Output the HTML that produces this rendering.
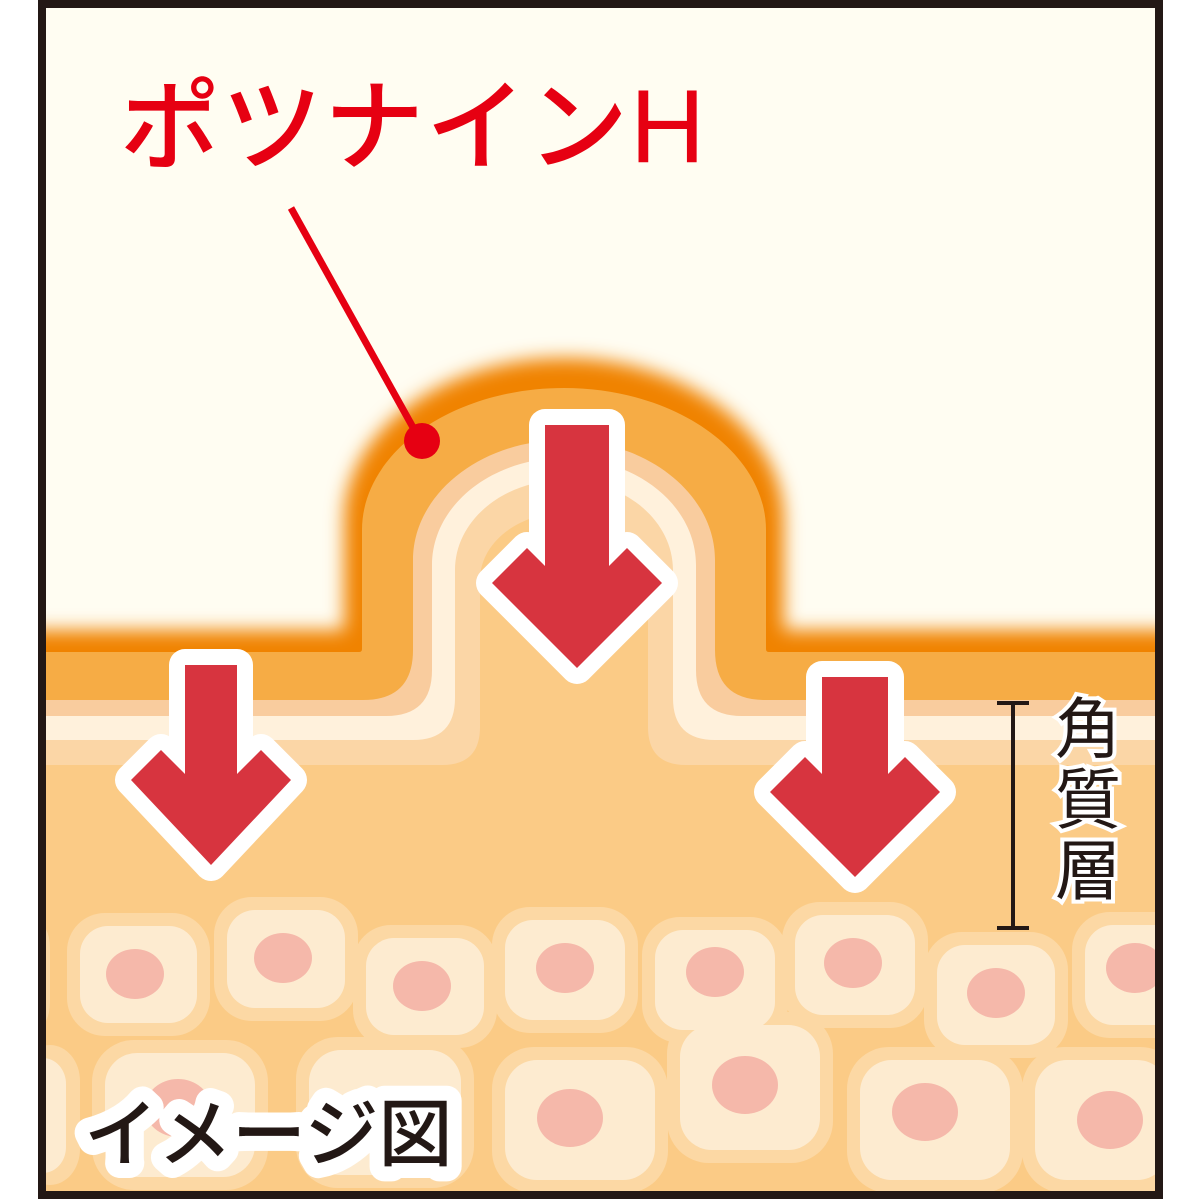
<!DOCTYPE html>
<html><head><meta charset="utf-8"><style>html,body{margin:0;padding:0;background:#fff}svg{display:block}</style></head>
<body>
<svg width="1200" height="1200" viewBox="0 0 1200 1200" xmlns="http://www.w3.org/2000/svg">
<defs>
<clipPath id="cp"><rect x="46" y="8" width="1109" height="1183"/></clipPath>
<filter id="bl" x="-10%" y="-10%" width="120%" height="120%"><feGaussianBlur stdDeviation="9"/></filter>
</defs>
<rect x="0" y="0" width="1200" height="1200" fill="#fff"/>
<g clip-path="url(#cp)">
<rect x="0" y="0" width="1200" height="1200" fill="#fbcb86"/>
<path fill="#fbd6a6" d="M-50,-50 H1250 V765 H686 Q648,765 648,727 V580 C648,543 610,513 564,513 C518,513 480,543 480,580 V727 Q480,765 442,765 H-50 Z"/>
<path fill="#fff1dc" d="M-50,-50 H1250 V740 H715 Q673,740 673,698 V570 C673,520 624,480 564,480 C504,480 455,520 455,570 V698 Q455,740 413,740 H-50 Z"/>
<path fill="#f9cc9e" d="M-50,-50 H1250 V716 H742 Q696,716 696,670 V565 C696,506 637,458 564,458 C491,458 432,506 432,565 V670 Q432,716 386,716 H-50 Z"/>
<path fill="#f6ac45" d="M-50,-50 H1250 V700 H765 Q715,700 715,650 V560 C715,494 647,440 564,440 C481,440 413,494 413,560 V650 Q413,700 363,700 H-50 Z"/>
<path fill="#f08300" d="M-50,-50 H1250 V652 H769 Q766,652 766,649 V530 C766,452 675,388 564,388 C453,388 362,452 362,530 V649 Q362,652 359,652 H-50 Z"/>
<path fill="#fffdf2" filter="url(#bl)" d="M-50,-50 H1250 V630 H786 Q784,630 784,628 V520 C784,432 685,358 564,358 C443,358 344,432 344,520 V628 Q344,630 342,630 H-50 Z"/>

<g fill="#fcd8a4">
<rect x="20" y="920" width="30" height="110" rx="28"/>
<rect x="67" y="913" width="143" height="123" rx="38"/>
<rect x="214" y="897" width="144" height="124" rx="38"/>
<rect x="353" y="925" width="144" height="123" rx="38"/>
<rect x="492" y="907" width="146" height="126" rx="38"/>
<rect x="642" y="917" width="146" height="126" rx="38"/>
<rect x="782" y="902" width="146" height="126" rx="38"/>
<rect x="924" y="932" width="144" height="126" rx="38"/>
<rect x="1072" y="912" width="120" height="126" rx="38"/>
<rect x="20" y="1045" width="60" height="140" rx="36"/>
<rect x="92" y="1040" width="176" height="150" rx="42"/>
<rect x="296" y="1037" width="178" height="151" rx="42"/>
<rect x="492" y="1047" width="176" height="146" rx="42"/>
<rect x="667" y="1012" width="166" height="151" rx="42"/>
<rect x="847" y="1047" width="176" height="146" rx="42"/>
<rect x="1022" y="1047" width="160" height="146" rx="42"/>
</g>
<g fill="#fdebd0">
<rect x="80" y="926" width="117" height="97" rx="28"/>
<rect x="227" y="910" width="118" height="98" rx="28"/>
<rect x="366" y="938" width="118" height="97" rx="28"/>
<rect x="505" y="920" width="120" height="100" rx="28"/>
<rect x="655" y="930" width="120" height="100" rx="28"/>
<rect x="795" y="915" width="120" height="100" rx="28"/>
<rect x="937" y="945" width="118" height="100" rx="28"/>
<rect x="1085" y="925" width="100" height="100" rx="28"/>
<rect x="20" y="1058" width="46" height="115" rx="26"/>
<rect x="105" y="1053" width="150" height="124" rx="32"/>
<rect x="309" y="1050" width="152" height="125" rx="32"/>
<rect x="505" y="1060" width="150" height="120" rx="32"/>
<rect x="680" y="1025" width="140" height="125" rx="32"/>
<rect x="860" y="1060" width="150" height="120" rx="32"/>
<rect x="1035" y="1060" width="134" height="120" rx="32"/>
</g>
<g fill="#f5b8aa">
<ellipse cx="135" cy="974" rx="29" ry="25"/>
<ellipse cx="283" cy="958" rx="29" ry="25"/>
<ellipse cx="422" cy="986" rx="29" ry="25"/>
<ellipse cx="565" cy="968" rx="29" ry="25"/>
<ellipse cx="715" cy="972" rx="29" ry="25"/>
<ellipse cx="853" cy="963" rx="29" ry="25"/>
<ellipse cx="996" cy="993" rx="29" ry="25"/>
<ellipse cx="1135" cy="968" rx="29" ry="25"/>
<ellipse cx="178" cy="1108" rx="33" ry="29"/>
<ellipse cx="570" cy="1118" rx="33" ry="29"/>
<ellipse cx="745" cy="1085" rx="33" ry="29"/>
<ellipse cx="925" cy="1112" rx="33" ry="29"/>
<ellipse cx="1110" cy="1120" rx="33" ry="29"/>
</g>

<g fill="#d7343f" stroke="#fff" stroke-width="32" stroke-linejoin="round" paint-order="stroke">
<polygon points="545,425 609,425 609,566 627,548 662,583 577,668 492,583 527,548 545,566"/>
<polygon points="185,665 237,665 237,774 261,750 291,780 211,865 131,780 161,750 185,774"/>
<polygon points="822,677 888,677 888,774 905,757 940,792 855,877 770,792 805,757 822,774"/>
</g>
</g>

<rect x="42" y="4" width="1117" height="1191" fill="none" stroke="#231815" stroke-width="8"/>

<line x1="291" y1="208" x2="420" y2="440" stroke="#e60012" stroke-width="7"/>
<circle cx="422" cy="441" r="18" fill="#e60012"/>
<text x="120" y="162" font-family="'Noto Sans CJK JP', sans-serif" font-weight="500" font-size="100" letter-spacing="2" fill="#e60012">ポツナイン<tspan font-family="Liberation Sans, sans-serif" font-weight="normal" font-size="104">H</tspan></text>

<g stroke="#231815" stroke-width="4">
<line x1="1013" y1="703" x2="1013" y2="928"/>
<line x1="997" y1="703" x2="1029" y2="703"/>
<line x1="997" y1="928" x2="1029" y2="928"/>
</g>
<g font-family="'Noto Sans CJK JP', sans-serif" font-size="66" fill="#231815" text-anchor="middle" stroke="#fff" stroke-width="8" paint-order="stroke">
<text x="1088" y="752">角</text>
<text x="1088" y="823">質</text>
<text x="1088" y="894">層</text>
</g>
<text x="84" y="1160" font-family="'Noto Sans CJK JP', sans-serif" font-weight="500" font-size="74" fill="#231815" stroke="#fff" stroke-width="30" stroke-linejoin="round" paint-order="stroke">イメージ図</text>
</svg>
</body></html>
